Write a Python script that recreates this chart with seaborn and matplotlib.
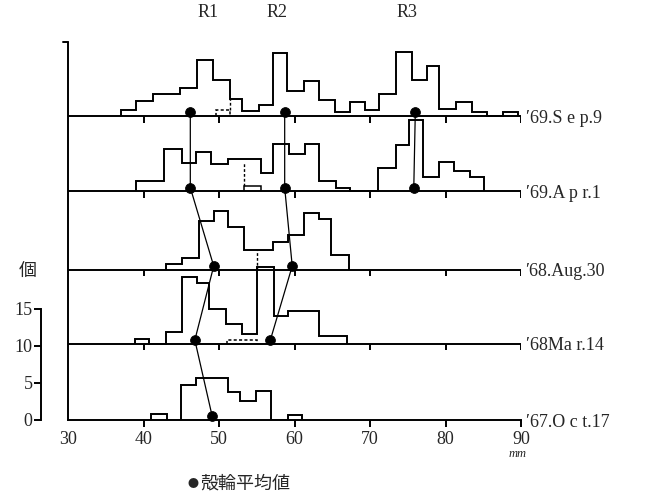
import matplotlib
matplotlib.use("Agg")
import matplotlib.pyplot as plt
import seaborn as sns

# rows from top to bottom
row_labels = ["′69.S e p.9", "′69.A p r.1", "′68.Aug.30", "′68Ma r.14", "′67.O c t.17"]
row_offsets = [41.1, 30.9, 20.3, 10.3, 0.0]

# shell length (mm) bin edges and counts
sep9_edges = [37.0, 39.0, 41.3, 44.9, 47.1, 49.2, 51.4, 53.0, 55.3, 57.1, 59.0, 61.3, 63.2,
              65.4, 67.4, 69.4, 71.2, 73.5, 75.5, 77.6, 79.2, 81.4, 83.5, 85.5, 87.6, 89.6]
sep9_counts = [0.75, 2.0, 2.9, 3.7, 7.6, 4.9, 2.3, 0.7, 1.5, 8.5, 3.4, 4.7, 2.2,
               0.5, 1.9, 0.8, 3.0, 8.6, 4.9, 6.7, 0.9, 1.9, 0.5, 0, 0.5]
apr1_edges = [39.0, 42.7, 45.1, 47.0, 49.0, 51.2, 55.5, 57.2, 59.3, 61.4, 63.3, 65.5, 67.4,
              71.1, 73.5, 75.2, 77.0, 79.1, 81.1, 83.3, 85.1]
apr1_counts = [1.4, 5.7, 3.8, 5.3, 3.7, 4.4, 2.5, 6.4, 5.0, 6.4, 1.4, 0.5, 0,
               3.1, 6.2, 9.7, 1.9, 4.0, 2.7, 1.9]
aug30_edges = [43.0, 45.1, 47.3, 49.3, 51.2, 53.3, 57.1, 59.2, 61.3, 63.2, 64.8, 67.2]
aug30_counts = [0.8, 1.6, 6.6, 7.9, 5.8, 2.7, 3.7, 4.7, 7.7, 6.9, 2.0]
mar14_edges = [38.9, 40.7, 43.0, 45.1, 47.1, 48.7, 50.9, 53.1, 55.0, 57.3, 59.2, 63.2, 67.0]
mar14_counts = [0.6, 0, 1.6, 9.0, 8.2, 4.7, 2.7, 1.3, 10.4, 3.7, 4.4, 1.1]
oct17_edges = [41.0, 43.1, 45.0, 47.0, 51.2, 52.8, 54.9, 56.9, 59.1, 61.0]
oct17_counts = [0.8, 0, 4.7, 5.7, 3.8, 2.6, 3.9, 0, 0.7]

all_edges = [sep9_edges, apr1_edges, aug30_edges, mar14_edges, oct17_edges]
all_counts = [sep9_counts, apr1_counts, aug30_counts, mar14_counts, oct17_counts]

# small sub-groups drawn inside some histograms
sub_rows = [0, 1, 3]
sub_edges = [[49.6, 51.5], [53.3, 55.5], [51.0, 55.0]]
sub_counts = [[0.8], [0.7], [0.5]]
sub_dashed = [True, False, True]
# dashed verticals: row, x, from, to
dash_rows = [0, 1, 2]
dash_x = [51.5, 53.3, 55.0]
dash_lo = [0.8, 0.7, 0.0]
dash_hi = [2.3, 3.9, 2.7]

# mean shell-ring size (mm), from top row downward
r1_means = [46.2, 46.2, 49.3, 46.8, 49.1]
r2_means = [58.7, 58.7, 59.7, 56.8]
r3_means = [76.0, 75.8]
ring_names = ["R1", "R2", "R3"]
ring_label_x = [48.5, 57.7, 74.9]

x_ticks = [30, 40, 50, 60, 70, 80, 90]
y_ticks = [0, 5, 10, 15]

sns.set_theme(style="white")
plt.rcParams['font.family'] = ['Liberation Serif', 'DejaVu Serif']
cjk = ['Noto Sans CJK JP', 'DejaVu Sans']

fig = plt.figure(figsize=(6.51, 5.04), dpi=100)
ax = fig.add_axes([68 / 651, 84 / 504, 453 / 651, 380 / 504])
ax.set_xlim(30, 90)
ax.set_ylim(0, 51.35)

lw = 1.4
for off, edges, counts in zip(row_offsets, all_edges, all_counts):
    vals = [off + c for c in counts]
    ax.stairs(vals, edges, baseline=off, color="black", lw=lw)
    if off > 0:
        ax.hlines(off, 30, 90, color="black", lw=lw)
        ax.vlines(x_ticks[1:], off - 0.9, off, color="black", lw=lw)

for r, e, c, d in zip(sub_rows, sub_edges, sub_counts, sub_dashed):
    off = row_offsets[r]
    ax.stairs([off + v for v in c], e, baseline=off, color="black", lw=1.1,
              linestyle=(0, (2, 1.5)) if d else "-")
for r, x, lo, hi in zip(dash_rows, dash_x, dash_lo, dash_hi):
    off = row_offsets[r]
    ax.vlines(x, off + lo, off + hi, color="black", lw=1.0, linestyles=(0, (2, 1.5)))

# main left line
ax.plot([30, 30], [0, 51.1], color="black", lw=lw, clip_on=False)
ax.plot([29.4, 30], [51.1, 51.1], color="black", lw=lw, clip_on=False)

# ring means with connecting lines
for means in [r1_means, r2_means, r3_means]:
    ys = [row_offsets[i] + 0.5 for i in range(len(means))]
    sns.lineplot(x=means, y=ys, sort=False, estimator=None, color="black", lw=0.9, ax=ax)
    sns.scatterplot(x=means, y=ys, color="black", s=50, edgecolor="black", zorder=5,
                    ax=ax, clip_on=False)

for name, x in zip(ring_names, ring_label_x):
    ax.text(x, 55.1, name, ha="center", va="center", fontsize=13)

for lab, off in zip(row_labels, row_offsets):
    ax.text(90.6, off - 0.3, lab, ha="left", va="center", fontsize=13)

# count axis on the left
ax.spines['left'].set_position(('outward', 19.5))
ax.spines['left'].set_bounds(0, 15)
ax.spines['left'].set_color("black")
ax.spines['left'].set_linewidth(lw)
ax.spines['bottom'].set_color("black")
ax.spines['bottom'].set_linewidth(lw)
ax.spines['top'].set_visible(False)
ax.spines['right'].set_visible(False)
ax.set_yticks(y_ticks)
ax.set_xticks(x_ticks)
ax.tick_params(axis='y', direction='out', length=5, width=lw, color="black",
               labelsize=13, pad=1, left=True)
ax.tick_params(axis='x', direction='in', length=0, labelsize=13, pad=8)
ax.vlines(x_ticks[1:], -0.9, 0, color="black", lw=lw, clip_on=False)
ax.grid(False)
ax.set_xlabel("")
ax.set_ylabel("")

fig.text(28 / 651, 1 - 272 / 504, "個", family=cjk, fontsize=13, ha="center", va="center")
fig.text(518 / 651, 1 - 454 / 504, "mm", fontstyle="italic", fontsize=9, ha="center", va="center")
fig.text(193 / 651, 1 - 484 / 504, "●", family=cjk, fontsize=8, ha="center", va="center")
fig.text(200 / 651, 1 - 484 / 504, "殻輪平均値", family=cjk, fontsize=13, ha="left", va="center")

fig.savefig("out.png", dpi=100)
